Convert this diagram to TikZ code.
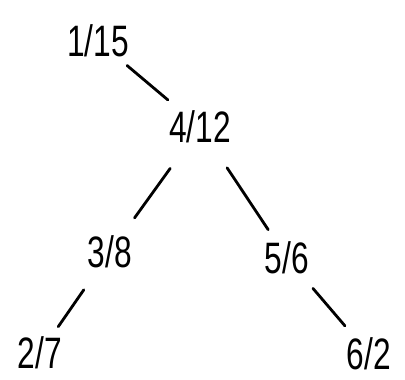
\documentclass[tikz,border=0pt]{standalone}
\usepackage{fontspec}
\newfontfamily\handfont[FakeStretch=0.72]{Liberation Sans}
\begin{document}
\begin{tikzpicture}[x=1pt,y=-1pt,
  lbl/.style={font=\handfont\fontsize{44}{44}\selectfont, inner sep=0pt},
  edge/.style={line width=2.8pt, line cap=round}]
\useasboundingbox (0,0) rectangle (405,380);
\node[lbl] (a) at (98,41) {1/15};
\node[lbl] (b) at (200,127) {4/12};
\node[lbl] (c) at (110,252) {3/8};
\node[lbl] (d) at (287,258) {5/6};
\node[lbl] (e) at (40,353) {2/7};
\node[lbl] (f) at (369,354) {6/2};
\draw[edge, shorten <=38pt, shorten >=42pt] (a.center) -- (b.center);
\draw[edge, shorten <=51pt, shorten >=42pt] (b.center) -- (c.center);
\draw[edge, shorten <=49pt, shorten >=34pt] (b.center) -- (d.center);
\draw[edge, shorten <=46pt, shorten >=32pt] (c.center) -- (e.center);
\draw[edge, shorten <=40pt, shorten >=37pt] (d.center) -- (f.center);
\end{tikzpicture}
\end{document}
